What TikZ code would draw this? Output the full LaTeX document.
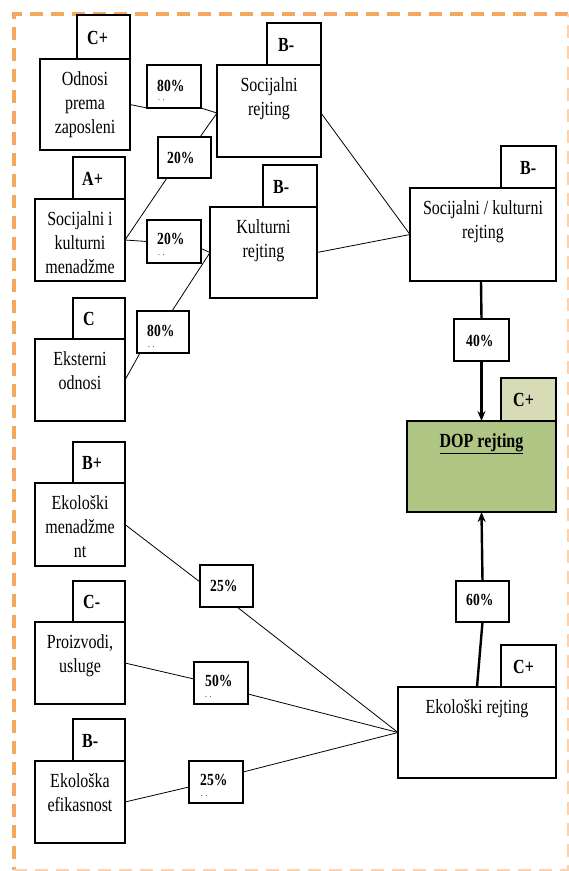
\documentclass[tikz,border=0pt]{standalone}
\usepackage{fontspec}
\setmainfont{Liberation Serif}[FakeStretch=0.8]
\usetikzlibrary{arrows.meta}
\definecolor{brdor}{HTML}{F4A75E}
\definecolor{brdlt}{HTML}{FBD2AC}
\definecolor{dopgreen}{HTML}{AFC584}
\definecolor{tabgreen}{HTML}{D7DCB6}
\begin{document}
\begin{tikzpicture}[x=1pt,y=-1pt,
  bx/.style={draw, line width=1.2pt, anchor=north west, inner sep=0pt, outer sep=0pt},
  txt/.style={font=\fontsize{20}{24}\selectfont, align=center, anchor=base, inner sep=0pt},
  grade/.style={font=\fontsize{20}{22}\selectfont\bfseries, anchor=base west, inner sep=0pt},
  pct/.style={font=\fontsize{17}{20}\selectfont\bfseries, anchor=base west, inner sep=0pt},
  dotz/.style={font=\fontsize{9}{9}\selectfont, anchor=base west, inner sep=0pt},
  conn/.style={line width=0.8pt},
  heavy/.style={line width=2.4pt},
  tip/.style={-{Stealth[length=10pt,width=8pt]}}
]
\useasboundingbox (0,0) rectangle (569,871);
% border
\draw[brdor, line width=4pt, dash pattern=on 13pt off 8pt] (568,14) -- (14,14) -- (14,870);
\draw[brdlt, line width=2.5pt, dash pattern=on 13pt off 8pt] (14,870) -- (568,870) -- (568,14);

% ---- main boxes ----
\node[bx, minimum width=90, minimum height=91] (odn) at (40,59) {};
\node[bx, minimum width=104, minimum height=92] (soc) at (217,65) {};
\node[bx, minimum width=90, minimum height=82] (sk) at (35,199) {};
\node[bx, minimum width=107, minimum height=91] (kul) at (210,207) {};
\node[bx, minimum width=90, minimum height=82] (eks) at (35,339) {};
\node[bx, minimum width=146, minimum height=93] (sk2) at (410,188) {};
\node[bx, fill=dopgreen, minimum width=149, minimum height=91] (dop) at (407,421) {};
\node[bx, minimum width=90, minimum height=83] (em) at (35,483) {};
\node[bx, minimum width=90, minimum height=82] (pr) at (35,622) {};
\node[bx, minimum width=90, minimum height=82] (ef) at (35,761) {};
\node[bx, minimum width=158, minimum height=91] (eko) at (398,687) {};

% ---- texts (base anchor = baseline of last line) ----
\node[txt] (odnT) at ([yshift=-74pt]odn.north) {Odnosi\\prema\\zaposleni};
\node[txt] (socT) at ([yshift=-50pt]soc.north) {Socijalni\\rejting};
\node[txt] (skT) at ([yshift=-74pt]sk.north) {Socijalni i\\kulturni\\menadžme};
\node[txt] (kulT) at ([yshift=-50pt]kul.north) {Kulturni\\rejting};
\node[txt] (eksT) at ([yshift=-50pt]eks.north) {Eksterni\\odnosi};
\node[txt] (sk2T) at ([yshift=-50pt]sk2.north) {Socijalni / kulturni\\rejting};
\node[txt, font=\fontsize{20}{24}\selectfont\bfseries] (dopT) at ([yshift=-26pt]dop.north) {\underline{DOP rejting}};
\node[txt] (emT) at ([yshift=-74pt]em.north) {Ekološki\\menadžme\\nt};
\node[txt] (prT) at ([yshift=-50pt]pr.north) {Proizvodi,\\usluge};
\node[txt] (efT) at ([yshift=-50pt]ef.north) {Ekološka\\efikasnost};
\node[txt] (ekoT) at ([yshift=-26pt]eko.north) {Ekološki rejting};

% ---- grade tabs ----
\node[bx, minimum width=53, minimum height=44] (odnG) at (77,15) {};
\node[bx, minimum width=54, minimum height=42] (socG) at (267,23) {};
\node[bx, minimum width=52, minimum height=42] (skG) at (73,157) {};
\node[bx, minimum width=54, minimum height=42] (kulG) at (263,165) {};
\node[bx, minimum width=52, minimum height=41] (eksG) at (73,298) {};
\node[bx, minimum width=55, minimum height=42] (sk2G) at (501,146) {};
\node[bx, fill=tabgreen, minimum width=55, minimum height=43] (dopG) at (501,378) {};
\node[bx, minimum width=52, minimum height=41] (emG) at (73,442) {};
\node[bx, minimum width=52, minimum height=41] (prG) at (73,581) {};
\node[bx, minimum width=52, minimum height=42] (efG) at (73,719) {};
\node[bx, minimum width=55, minimum height=42] (ekoG) at (501,645) {};

\node[grade] (odnGt) at ([xshift=10pt,yshift=-7pt]odnG.west) {C+};
\node[grade] (socGt) at ([xshift=11pt,yshift=-7pt]socG.west) {B-};
\node[grade] (skGt) at ([xshift=9pt,yshift=-7pt]skG.west) {A+};
\node[grade] (kulGt) at ([xshift=10pt,yshift=-7pt]kulG.west) {B-};
\node[grade] (eksGt) at ([xshift=10pt,yshift=-7pt]eksG.west) {C};
\node[grade] (sk2Gt) at ([xshift=19pt,yshift=-7pt]sk2G.west) {B-};
\node[grade] (dopGt) at ([xshift=12pt,yshift=-7pt]dopG.west) {C+};
\node[grade] (emGt) at ([xshift=9pt,yshift=-7pt]emG.west) {B+};
\node[grade] (prGt) at ([xshift=10pt,yshift=-7pt]prG.west) {C-};
\node[grade] (efGt) at ([xshift=9pt,yshift=-7pt]efG.west) {B-};
\node[grade] (ekoGt) at ([xshift=12pt,yshift=-7pt]ekoG.west) {C+};

% ---- percentage boxes ----
\node[bx, minimum width=54, minimum height=43] (p1) at (147,65) {};
\node[bx, minimum width=53, minimum height=41] (p2) at (158,137) {};
\node[bx, minimum width=54, minimum height=43] (p3) at (147,220) {};
\node[bx, minimum width=52, minimum height=42] (p4) at (137,311) {};
\node[bx, minimum width=55, minimum height=42] (p5) at (454,319) {};
\node[bx, minimum width=53, minimum height=42] (p6) at (200,565) {};
\node[bx, minimum width=54, minimum height=42] (p7) at (194,662) {};
\node[bx, minimum width=54, minimum height=42] (p8) at (189,761) {};
\node[bx, minimum width=53, minimum height=41] (p9) at (456,581) {};

\node[pct] (p1t) at ([xshift=10pt,yshift=-4.5pt]p1.west) {80\%};
\node[pct] (p2t) at ([xshift=9pt,yshift=-5.5pt]p2.west) {20\%};
\node[pct] (p3t) at ([xshift=10pt,yshift=-2.5pt]p3.west) {20\%};
\node[pct] (p4t) at ([xshift=10pt,yshift=-4pt]p4.west) {80\%};
\node[pct] (p5t) at ([xshift=12pt,yshift=-6pt]p5.west) {40\%};
\node[pct] (p6t) at ([xshift=10pt,yshift=-5pt]p6.west) {25\%};
\node[pct] (p7t) at ([xshift=11pt,yshift=-3pt]p7.west) {50\%};
\node[pct] (p8t) at ([xshift=11pt,yshift=-3pt]p8.west) {25\%};
\node[pct] (p9t) at ([xshift=10pt,yshift=-3.5pt]p9.west) {60\%};

\node[dotz] (p1d) at ([xshift=11pt,yshift=-14pt]p1.west) {.\,\,.};
\node[dotz] (p3d) at ([xshift=11pt,yshift=-13.5pt]p3.west) {.\,\,.};
\node[dotz] (p4d) at ([xshift=11pt,yshift=-15pt]p4.west) {.\,\,.};
\node[dotz] (p7d) at ([xshift=11pt,yshift=-14pt]p7.west) {.\,\,.};
\node[dotz] (p8d) at ([xshift=12pt,yshift=-14pt]p8.west) {.\,\,.};

% ---- connectors ----
\draw[conn] (odn.east) -- (p1.south west);
\draw[conn] (p1.south east) -- ([yshift=-2pt]soc.west);
\draw[conn] (sk.east) -- ([xshift=9pt]p2.south west);
\draw[conn] ([xshift=-11pt]p2.north east) -- ([yshift=-2pt]soc.west);
\draw[conn] (sk.east) -- (p3.west);
\draw[conn] ([yshift=-7pt]p3.east) -- (kul.west);
\draw[conn] (eks.east) -- ([xshift=3pt]p4.south west);
\draw[conn] ([xshift=35pt]p4.north west) -- (kul.west);
\draw[conn] ([yshift=-2pt]soc.east) -- (sk2.west);
\draw[conn] (kul.east) -- (sk2.west);

\draw[heavy] ([xshift=-2pt]sk2.south) -- (p5.north);
\draw[heavy, tip] (p5.south) -- (dop.north);
\draw[heavy] (eko.north) -- (p9.south);
\draw[heavy, tip] (p9.north) -- (dop.south);

\draw[conn] (em.east) -- ([yshift=4pt]p6.west);
\draw[conn] ([xshift=37pt]p6.south west) -- (eko.west);
\draw[conn] (pr.east) -- ([yshift=4pt]p7.west);
\draw[conn] ([yshift=-11pt]p7.east) -- (eko.west);
\draw[conn] (ef.east) -- ([yshift=-5pt]p8.west);
\draw[conn] ([yshift=10pt]p8.east) -- (eko.west);
\end{tikzpicture}
\end{document}
